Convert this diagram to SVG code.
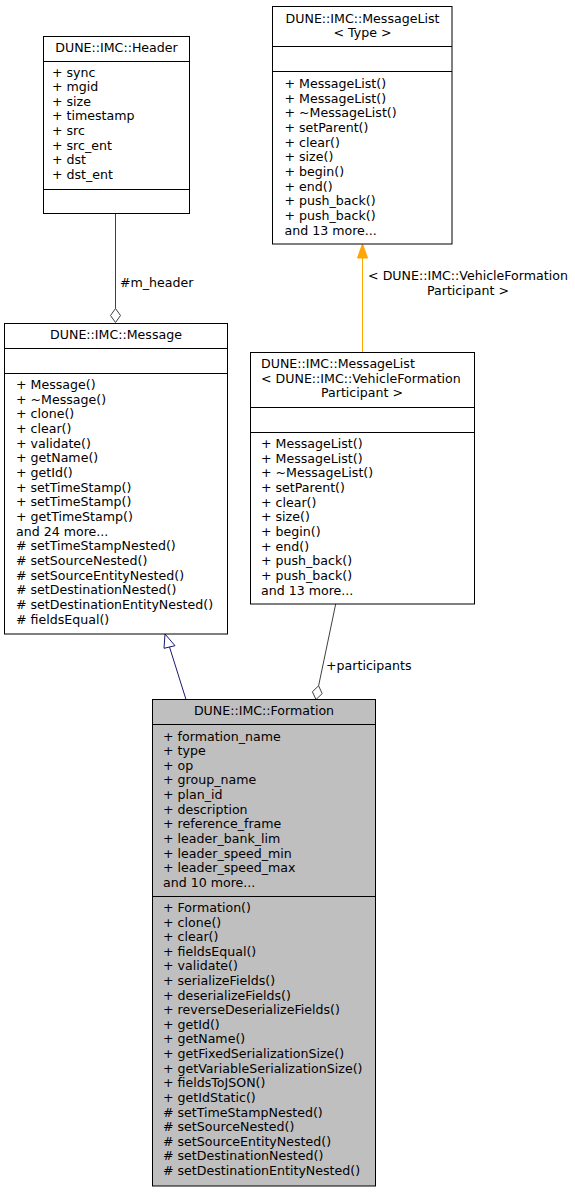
<svg xmlns="http://www.w3.org/2000/svg" width="575" height="1192" viewBox="0 0 575 1192">
<style>
text{font-family:"DejaVu Sans","Liberation Sans",sans-serif;font-size:12.6px;fill:#000}
.c{text-anchor:middle}
.box{fill:#fff;stroke:#000;stroke-width:1}
.gbox{fill:#bfbfbf;stroke:#000;stroke-width:1}
.sep{stroke:#000;stroke-width:1}
.use{stroke:#404040;stroke-width:1;fill:none}
.inh{stroke:#191970;stroke-width:1;fill:none}
.tpl{stroke:#ffa500;stroke-width:1;fill:none}
</style>
<rect width="575" height="1192" fill="#fff"/>
<g id="connectors">
  <line class="use" x1="115.5" y1="213.5" x2="115.5" y2="308.5"/>
  <polygon points="115.5,308.5 120.5,315.5 115.5,322.5 110.5,315.5" fill="#fff" stroke="#404040"/>
  <text x="120" y="287">#m_header</text>
  <line class="tpl" x1="362.5" y1="258" x2="362.5" y2="352.5"/>
  <polygon points="362.5,244 367.5,258 357.5,258" fill="#ffa500" stroke="#ffa500"/>
  <text class="c" x="468" y="280">&lt; DUNE::IMC::VehicleFormation</text>
  <text class="c" x="468" y="295">Participant &gt;</text>
  <line class="inh" x1="186" y1="699.5" x2="169.5" y2="647"/>
  <polygon points="165,634 175,645.7 164,648.3" fill="#fff" stroke="#191970"/>
  <line class="use" x1="335.7" y1="604" x2="318.6" y2="685.8"/>
  <polygon points="318.6,685.8 322.2,693.6 316,699.5 312.4,691.7" fill="#fff" stroke="#404040"/>
  <text x="326" y="670">+participants</text>
</g>
<g id="node-header">
  <rect class="box" x="43.5" y="36.5" width="146" height="177"/>
  <line class="sep" x1="43.5" y1="61.5" x2="189.5" y2="61.5"/>
  <line class="sep" x1="43.5" y1="189.5" x2="189.5" y2="189.5"/>
  <text class="c" x="116.5" y="52">DUNE::IMC::Header</text>
  <text x="52" y="76.5">+ sync</text>
  <text x="52" y="91.15">+ mgid</text>
  <text x="52" y="105.8">+ size</text>
  <text x="52" y="120.45">+ timestamp</text>
  <text x="52" y="135.1">+ src</text>
  <text x="52" y="149.75">+ src_ent</text>
  <text x="52" y="164.4">+ dst</text>
  <text x="52" y="179.05">+ dst_ent</text>
</g>
<g id="node-messagelist-type">
  <rect class="box" x="272.5" y="6.5" width="179.5" height="237.5"/>
  <line class="sep" x1="272.5" y1="46.5" x2="452" y2="46.5"/>
  <line class="sep" x1="272.5" y1="71.5" x2="452" y2="71.5"/>
  <text class="c" x="362.5" y="22.5">DUNE::IMC::MessageList</text>
  <text class="c" x="362.5" y="37">&lt; Type &gt;</text>
  <text x="284.5" y="88">+ MessageList()</text>
  <text x="284.5" y="102.67">+ MessageList()</text>
  <text x="284.5" y="117.34">+ ~MessageList()</text>
  <text x="284.5" y="132.01">+ setParent()</text>
  <text x="284.5" y="146.68">+ clear()</text>
  <text x="284.5" y="161.35">+ size()</text>
  <text x="284.5" y="176.02">+ begin()</text>
  <text x="284.5" y="190.69">+ end()</text>
  <text x="284.5" y="205.36">+ push_back()</text>
  <text x="284.5" y="220.03">+ push_back()</text>
  <text x="284.5" y="234.7">and 13 more...</text>
</g>
<g id="node-message">
  <rect class="box" x="4.5" y="323.5" width="223" height="310.5"/>
  <line class="sep" x1="4.5" y1="348.5" x2="227.5" y2="348.5"/>
  <line class="sep" x1="4.5" y1="373.5" x2="227.5" y2="373.5"/>
  <text class="c" x="116" y="339">DUNE::IMC::Message</text>
  <text x="16" y="389">+ Message()</text>
  <text x="16" y="403.67">+ ~Message()</text>
  <text x="16" y="418.34">+ clone()</text>
  <text x="16" y="433.01">+ clear()</text>
  <text x="16" y="447.68">+ validate()</text>
  <text x="16" y="462.35">+ getName()</text>
  <text x="16" y="477.02">+ getId()</text>
  <text x="16" y="491.69">+ setTimeStamp()</text>
  <text x="16" y="506.36">+ setTimeStamp()</text>
  <text x="16" y="521.03">+ getTimeStamp()</text>
  <text x="16" y="535.7">and 24 more...</text>
  <text x="16" y="550.37"># setTimeStampNested()</text>
  <text x="16" y="565.04"># setSourceNested()</text>
  <text x="16" y="579.71"># setSourceEntityNested()</text>
  <text x="16" y="594.38"># setDestinationNested()</text>
  <text x="16" y="609.05"># setDestinationEntityNested()</text>
  <text x="16" y="623.72"># fieldsEqual()</text>
</g>
<g id="node-messagelist-vfp">
  <rect class="box" x="250.5" y="352.5" width="224" height="251.5"/>
  <line class="sep" x1="250.5" y1="407.5" x2="474.5" y2="407.5"/>
  <line class="sep" x1="250.5" y1="432.5" x2="474.5" y2="432.5"/>
  <text x="261" y="368">DUNE::IMC::MessageList</text>
  <text x="261" y="382.5">&lt; DUNE::IMC::VehicleFormation</text>
  <text class="c" x="362" y="397">Participant &gt;</text>
  <text x="261" y="448">+ MessageList()</text>
  <text x="261" y="462.65">+ MessageList()</text>
  <text x="261" y="477.3">+ ~MessageList()</text>
  <text x="261" y="491.95">+ setParent()</text>
  <text x="261" y="506.6">+ clear()</text>
  <text x="261" y="521.25">+ size()</text>
  <text x="261" y="535.9">+ begin()</text>
  <text x="261" y="550.55">+ end()</text>
  <text x="261" y="565.2">+ push_back()</text>
  <text x="261" y="579.85">+ push_back()</text>
  <text x="261" y="594.5">and 13 more...</text>
</g>
<g id="node-formation">
  <rect class="gbox" x="152.5" y="699.5" width="223" height="486.5"/>
  <line class="sep" x1="152.5" y1="724.5" x2="375.5" y2="724.5"/>
  <line class="sep" x1="152.5" y1="896.5" x2="375.5" y2="896.5"/>
  <text class="c" x="264" y="715">DUNE::IMC::Formation</text>
  <text x="163" y="740.5">+ formation_name</text>
  <text x="163" y="755.15">+ type</text>
  <text x="163" y="769.8">+ op</text>
  <text x="163" y="784.45">+ group_name</text>
  <text x="163" y="799.1">+ plan_id</text>
  <text x="163" y="813.75">+ description</text>
  <text x="163" y="828.4">+ reference_frame</text>
  <text x="163" y="843.05">+ leader_bank_lim</text>
  <text x="163" y="857.7">+ leader_speed_min</text>
  <text x="163" y="872.35">+ leader_speed_max</text>
  <text x="163" y="887">and 10 more...</text>
  <text x="163" y="912">+ Formation()</text>
  <text x="163" y="926.61">+ clone()</text>
  <text x="163" y="941.22">+ clear()</text>
  <text x="163" y="955.83">+ fieldsEqual()</text>
  <text x="163" y="970.44">+ validate()</text>
  <text x="163" y="985.05">+ serializeFields()</text>
  <text x="163" y="999.66">+ deserializeFields()</text>
  <text x="163" y="1014.27">+ reverseDeserializeFields()</text>
  <text x="163" y="1028.88">+ getId()</text>
  <text x="163" y="1043.49">+ getName()</text>
  <text x="163" y="1058.1">+ getFixedSerializationSize()</text>
  <text x="163" y="1072.71">+ getVariableSerializationSize()</text>
  <text x="163" y="1087.32">+ fieldsToJSON()</text>
  <text x="163" y="1101.93">+ getIdStatic()</text>
  <text x="163" y="1116.54"># setTimeStampNested()</text>
  <text x="163" y="1131.15"># setSourceNested()</text>
  <text x="163" y="1145.76"># setSourceEntityNested()</text>
  <text x="163" y="1160.37"># setDestinationNested()</text>
  <text x="163" y="1174.98"># setDestinationEntityNested()</text>
</g>
</svg>
